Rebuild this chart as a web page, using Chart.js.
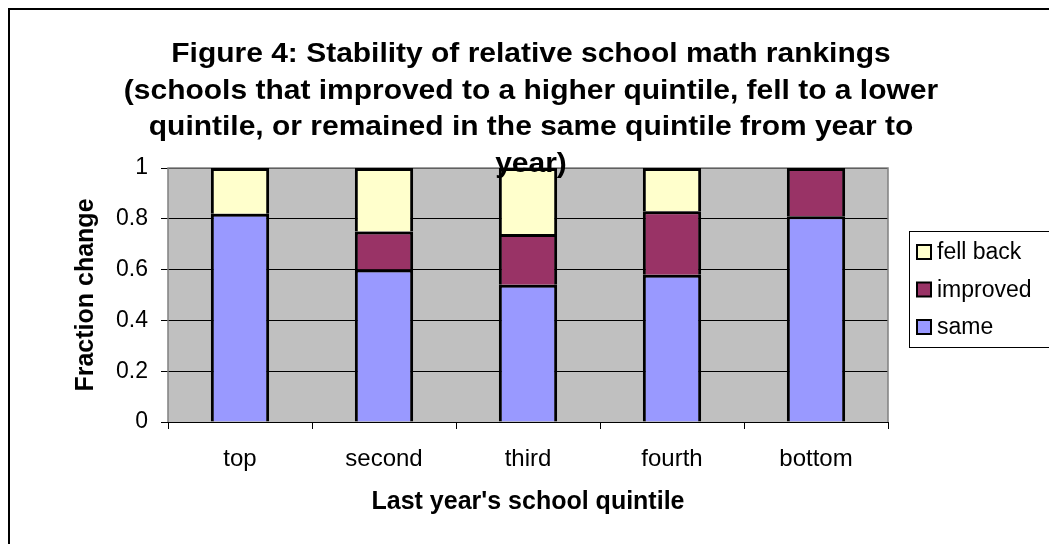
<!DOCTYPE html>
<html>
<head>
<meta charset="utf-8">
<script src="https://cdn.jsdelivr.net/npm/chart.js@4/dist/chart.umd.min.js"></script>
<style>
  body { margin: 0; background: #fff; }
  #wrap { width: 1049px; height: 544px; }
</style>
</head>
<body>
<div id="wrap"><canvas id="chart" width="1049" height="544"></canvas></div>
<script>
// chart data
const quintiles = ["top", "second", "third", "fourth", "bottom"];
const same = [0.82, 0.60, 0.54, 0.58, 0.81];
const improved = [0, 0.15, 0.20, 0.25, 0.19];
const fellBack = [0.18, 0.25, 0.26, 0.17, 0];
const titleLines = [
    "Figure 4: Stability of relative school math rankings",
    "(schools that improved to a higher quintile, fell to a lower",
    "quintile, or remained in the same quintile from year to",
    "year)"
];

const FONT = "Arial, 'Liberation Sans', sans-serif";

// grey plot background + plot border
const plotBox = {
    id: "plotBox",
    beforeDraw(chart) {
        const { ctx, chartArea: a } = chart;
        ctx.save();
        ctx.fillStyle = "#c0c0c0";
        ctx.fillRect(a.left, a.top, a.right - a.left, a.bottom - a.top);
        ctx.restore();
    },
    beforeDatasetsDraw(chart) {
        const { ctx, chartArea: a } = chart;
        ctx.save();
        ctx.strokeStyle = "#808080";
        ctx.lineWidth = 1.5;
        ctx.beginPath();
        ctx.moveTo(a.left, a.bottom);
        ctx.lineTo(a.left, a.top);
        ctx.lineTo(a.right, a.top);
        ctx.lineTo(a.right, a.bottom);
        ctx.stroke();
        ctx.restore();
    }
};

// title, legend box and outer frame
const decorations = {
    id: "decorations",
    afterDraw(chart) {
        const ctx = chart.ctx;
        ctx.save();

        // outer frame (left and top edges only)
        ctx.strokeStyle = "#000";
        ctx.lineWidth = 2;
        ctx.beginPath();
        ctx.moveTo(9, 544);
        ctx.lineTo(9, 9);
        ctx.lineTo(1049, 9);
        ctx.stroke();

        // title
        ctx.fillStyle = "#000";
        ctx.font = "bold 27px " + FONT;
        ctx.textAlign = "center";
        ctx.textBaseline = "alphabetic";
        titleLines.forEach((line, i) => {
            ctx.save();
            ctx.translate(531, 62 + i * 36.7);
            ctx.scale(1.11, 1);
            ctx.fillText(line, 0, 0);
            ctx.restore();
        });

        // legend
        ctx.fillStyle = "#fff";
        ctx.fillRect(909, 231, 150, 116);
        ctx.strokeStyle = "#000";
        ctx.lineWidth = 1;
        ctx.strokeRect(909.5, 231.5, 150, 116);
        const sets = chart.data.datasets.slice().reverse();
        ctx.font = "23px " + FONT;
        ctx.textAlign = "left";
        ctx.textBaseline = "middle";
        sets.forEach((ds, i) => {
            const cy = 252 + i * 37.5;
            ctx.fillStyle = ds.backgroundColor;
            ctx.fillRect(917, cy - 7, 14, 14);
            ctx.lineWidth = 2;
            ctx.strokeStyle = "#000";
            ctx.strokeRect(917, cy - 7, 14, 14);
            ctx.fillStyle = "#000";
            ctx.fillText(ds.label, 937, cy + 1);
        });
        ctx.restore();
    }
};

function makeSet(label, data, colour) {
    return {
        label: label,
        data: data,
        backgroundColor: colour,
        borderColor: "#000",
        borderWidth: 3,
        barPercentage: 0.405,
        categoryPercentage: 1.0
    };
}

new Chart(document.getElementById("chart"), {
    type: "bar",
    data: {
        labels: quintiles,
        datasets: [
            makeSet("same", same, "#9999ff"),
            makeSet("improved", improved, "#993366"),
            makeSet("fell back", fellBack, "#ffffcc")
        ]
    },
    options: {
        responsive: false,
        animation: false,
        layout: { padding: { top: 168, right: 161, bottom: 0, left: 0 } },
        plugins: {
            legend: { display: false },
            title: { display: false },
            tooltip: { enabled: false }
        },
        scales: {
            x: {
                stacked: true,
                afterFit(scale) { scale.height = 122; },
                grid: { offset: true, drawOnChartArea: false, color: "#000", tickLength: 7 },
                border: { color: "#000", width: 1 },
                ticks: { color: "#000", padding: 16, font: { family: FONT, size: 24 } },
                title: {
                    display: true,
                    text: "Last year's school quintile",
                    color: "#000",
                    padding: { top: 0, bottom: 27 },
                    font: { family: FONT, size: 25, weight: "bold" }
                }
            },
            y: {
                stacked: true,
                min: 0,
                max: 1,
                afterFit(scale) { scale.width = 168; },
                grid: { color: "#000", tickLength: 7 },
                border: { display: false },
                ticks: {
                    stepSize: 0.2,
                    color: "#000",
                    padding: 13,
                    font: { family: FONT, size: 23 },
                    callback: (v) => String(Math.round(v * 10) / 10)
                },
                title: {
                    display: true,
                    text: "Fraction change",
                    color: "#000",
                    padding: { top: 71, bottom: 0 },
                    font: { family: FONT, size: 25, weight: "bold" }
                }
            }
        }
    },
    plugins: [plotBox, decorations]
});
</script>
</body>
</html>
